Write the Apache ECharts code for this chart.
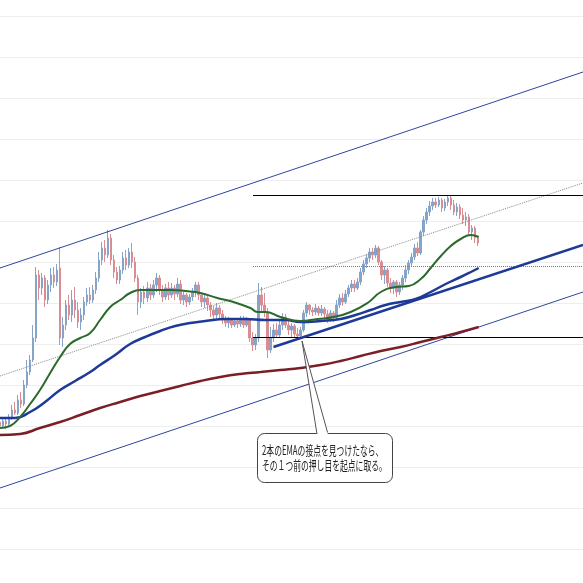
<!DOCTYPE html>
<html><head><meta charset="utf-8">
<script src="https://cdn.jsdelivr.net/npm/echarts@6/dist/echarts.min.js"></script>
<style>html,body{margin:0;padding:0;background:#fff}#c{width:583px;height:583px}</style>
</head><body><div id="c"></div>
<script>
// slots (bars) on the time axis
const slotCount = 195;
const categories = Array.from({length: slotCount}, (_, i) => String(i));

// faint horizontal price grid levels
const gridLevels = [583, 542, 501, 460, 419, 378, 337, 296, 255, 214, 173, 132, 91, 50];

// candles: [open, close, low, high]
const candles = [
[178,174,170,182],[174,179,172,183],[179,176,171,181],[176,183,174,186],[183,190,180,195],
[190,187,185,198],[187,200,185,205],[200,196,192,208],[196,215,194,220],[215,228,212,240],
[228,240,225,245],[240,262,238,275],[262,325,258,333],[325,312,300,330],[312,322,305,327],
[322,300,293,325],[300,315,296,320],[315,325,308,332],[325,318,312,333],[318,330,314,336],
[332,262,255,353],[262,275,253,283],[275,295,270,300],[295,285,280,305],[285,300,278,310],
[300,290,282,313],[290,278,272,298],[278,285,270,292],[285,298,280,303],[298,305,294,312],
[305,300,296,313],[300,310,297,315],[310,322,306,328],[322,340,318,348],[340,352,335,358],
[352,345,338,360],[345,362,342,370],[362,340,335,366],[340,328,322,345],[328,320,316,333],
[320,330,316,334],[330,342,326,348],[342,335,330,350],[335,348,332,352],[348,338,332,357],
[338,322,318,343],[322,298,285,325],[298,308,292,312],[308,302,296,314],[302,312,298,318],
[312,305,300,316],[305,315,302,320],[315,322,308,327],[322,310,305,325],[310,303,298,315],
[303,312,300,316],[312,305,300,318],[305,312,302,317],[312,306,300,315],[306,316,303,322],
[316,300,296,320],[300,305,295,308],[305,298,293,307],[298,303,295,306],[303,308,299,312],
[308,315,303,318],[315,305,300,318],[305,298,293,307],[298,302,292,305],[302,295,289,304],
[295,290,283,298],[290,285,280,294],[285,292,282,297],[292,286,281,295],[286,280,276,290],
[280,277,273,284],[277,280,272,283],[280,275,272,282],[275,279,273,281],[279,276,272,282],
[276,281,273,284],[281,275,272,284],[275,280,273,283],[280,262,258,282],[262,255,249,268],
[255,262,250,266],[262,305,258,317],[305,295,287,313],[295,288,283,307],[288,250,242,292],
[250,262,247,273],[262,270,258,276],[270,265,262,277],[265,275,262,280],[275,283,270,287],
[283,275,272,286],[275,270,265,280],[270,274,263,277],[274,266,262,276],[266,264,261,272],
[264,270,262,273],[270,287,268,290],[287,295,283,298],[295,290,285,296],[290,288,284,293],
[288,292,285,296],[292,287,284,294],[287,291,284,295],[291,286,282,293],[286,281,277,290],
[281,287,278,290],[287,282,278,289],[282,295,280,300],[295,302,292,306],[302,298,294,307],
[298,306,296,310],[306,312,303,315],[312,316,308,320],[316,312,308,320],[312,318,310,322],
[318,328,315,332],[328,336,325,340],[336,342,332,346],[342,348,338,352],[348,345,340,352],
[345,352,342,355],[352,338,335,354],[338,325,320,340],[325,330,316,334],[330,317,313,332],
[317,312,307,322],[312,318,306,320],[318,308,303,320],[308,315,305,318],[315,322,310,325],
[322,330,318,335],[330,337,326,340],[337,343,333,347],[343,352,340,356],[352,347,344,358],
[347,368,345,370],[368,380,364,384],[380,388,376,392],[388,394,384,399],[394,398,390,402],
[398,395,392,402],[395,400,393,403],[400,392,388,402],[392,398,389,401],[398,402,394,404],
[402,395,390,405],[395,388,385,400],[388,393,384,397],[393,385,381,396],[385,380,376,392],
[380,383,374,388],[383,368,365,386],[368,372,360,375],[372,362,357,374],[362,357,354,364]
];

// moving averages: [slot, value]
const emaShort = [[0,172],[3.3,174],[6.7,183],[10,196],[13.3,210],[16.7,227],[20,243],[23.3,256],[26.7,262],[30,267],[33.3,280],[36.7,293],[40,300],[43.3,307],[46.7,310],[51.7,310],[56.7,310],[61.7,309],[66.7,307],[72.3,302],[77.7,298],[83.3,292],[85.7,288],[88.3,288],[93.3,283],[100,279],[105.7,281],[111,283],[116.7,288],[122.3,297],[126.7,308],[131.7,313],[136,314],[140,321],[143.3,332],[146.7,344],[150,354],[153.3,361],[156.7,365],[159.3,363]];
const emaMid = [[0,182],[5,182],[10,188],[15,198],[20,210],[25,219],[30,228],[33.3,235],[38.3,245],[43.3,256],[48.3,263],[53.3,269],[58.3,274],[63.3,277],[68.3,279],[75,281],[81.7,281],[88.3,280],[95,280],[100,278],[106.7,279],[113.3,281],[118.3,285],[123.3,290],[128.3,295],[133.3,298],[138.3,301],[143.3,308],[148.3,316],[153.3,323],[156.7,328],[159.3,332]];
const emaLong = [[0,165],[6.7,166],[13.3,172],[20,178],[26.7,185],[33.3,192],[40,198],[46.7,204],[53.3,209],[60,214],[66.7,219],[73.3,223],[80,226],[86.7,228],[93.3,230],[100,232],[106.7,235],[113.3,239],[120,244],[126.7,249],[133.3,253],[140,258],[146.7,263],[153.3,268],[159.3,273]];

// drawn lines: [slot, value] endpoints
const channelUpper = [[0,332],[194,528]];
const channelLower = [[0,112],[194,308]];
const channelMid = [[0,224],[194,417]];
const trendSupport = [[91,253],[194,355]];
const levelHigh = [[84.2,404.5],[194,404.5]];
const levelMid = [[84.2,333.5],[194,333.5]];
const levelLow = [[84.2,262.5],[194,262.5]];

const noteLines = ['2本のEMAの接点を見つけたなら、', 'その１つ前の押し目を起点に取る。'];

const chart = echarts.init(document.getElementById('c'), null, {renderer: 'canvas'});
function seg(data, color, width, type, z) {
  return {type: 'line', xAxisIndex: 1, data: data, symbol: 'none', silent: true, z: z || 3,
    lineStyle: {color: color, width: width, type: type || 'solid'}};
}
const gridSeries = gridLevels.map(v => ({
  type: 'line', xAxisIndex: 1, data: [[0, v + 0.5], [slotCount - 1, v + 0.5]], symbol: 'none', silent: true, z: 0,
  lineStyle: {color: '#eeeeee', width: 1}
}));
const option = {
  animation: false,
  backgroundColor: '#ffffff',
  grid: {left: 0, right: 0, top: 0, bottom: 0},
  xAxis: [
    {type: 'category', data: categories, boundaryGap: false, show: false},
    {type: 'value', min: 0, max: slotCount - 1, show: false}
  ],
  yAxis: {type: 'value', min: 17, max: 600, show: false, splitLine: {show: false}},
  series: gridSeries.concat([
    {type: 'candlestick', xAxisIndex: 0, data: candles, barWidth: 2, z: 2,
      itemStyle: {color: '#86a3ca', color0: '#d88d92', borderColor: '#86a3ca', borderColor0: '#d88d92', borderWidth: 1}},
    seg(channelUpper, '#2c46a0', 1),
    seg(channelLower, '#2c46a0', 1),
    seg(channelMid, '#8a8a8a', 1, 'dotted'),
    seg(levelHigh, '#000000', 1),
    seg(levelLow, '#000000', 1),
    seg(levelMid, '#7a7a7a', 1, 'dotted'),
    {type: 'line', xAxisIndex: 1, data: emaLong, smooth: true, symbol: 'none', z: 4, lineStyle: {color: '#7b1f27', width: 2.5}},
    {type: 'line', xAxisIndex: 1, data: emaMid, smooth: true, symbol: 'none', z: 4, lineStyle: {color: '#1d3a98', width: 2.5}},
    {type: 'line', xAxisIndex: 1, data: emaShort, smooth: true, symbol: 'none', z: 4, lineStyle: {color: '#2b6a2b', width: 2}},
    seg(trendSupport, '#1d3a98', 2.5, 'solid', 5)
  ]),
  graphic: [
    {type: 'rect', shape: {x: 257.5, y: 433.5, width: 135, height: 49, r: 7}, z: 100,
      style: {fill: '#ffffff', stroke: '#444444', lineWidth: 1}},
    {type: 'polyline', shape: {points: [[317, 434], [302, 341], [328, 434]]}, z: 101,
      style: {fill: '#ffffff', stroke: '#555555', lineWidth: 1}},
    {type: 'rect', shape: {x: 318, y: 432, width: 9.5, height: 3}, z: 102, style: {fill: '#ffffff'}},
    {type: 'group', x: 262, y: 450, scaleX: 0.6, z: 103, children: [
      {type: 'text', x: 0, y: 0, z: 103, style: {text: noteLines[0], fill: '#222222', font: '13px "Noto Sans CJK JP"', textVerticalAlign: 'middle'}},
      {type: 'text', x: 0, y: 15, z: 103, style: {text: noteLines[1], fill: '#222222', font: '13px "Noto Sans CJK JP"', textVerticalAlign: 'middle'}}
    ]}
  ]
};
chart.setOption(option);
</script>
</body></html>
